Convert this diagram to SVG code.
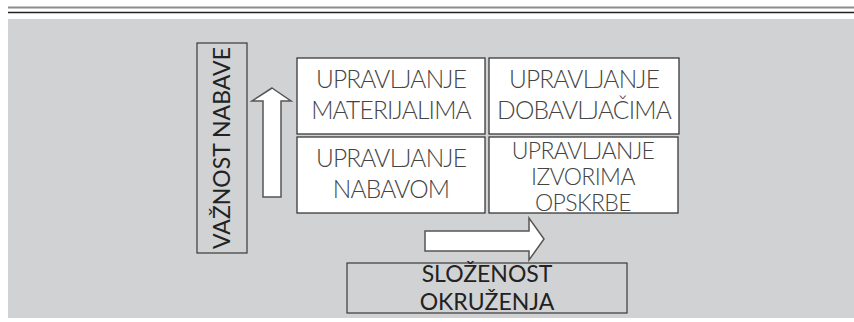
<svg xmlns="http://www.w3.org/2000/svg" width="854" height="322" viewBox="0 0 854 322">
<style>
.box{fill:#fff;stroke:#3a3a3a;stroke-width:1.3}
.lbl{fill:none;stroke:#3a3a3a;stroke-width:1.2}
.arr{fill:#fff;stroke:#555;stroke-width:1.5;stroke-linejoin:miter}
.t{font-family:Lato,"Liberation Sans",sans-serif;font-weight:300;font-size:24.5px;letter-spacing:-0.8px;fill:#444;text-anchor:middle}
.s{font-size:23px;letter-spacing:-0.6px}
.d{font-family:Lato,"Liberation Sans",sans-serif;font-weight:400;font-size:23px;fill:#222;text-anchor:middle}
</style>
<rect x="0" y="0" width="854" height="322" fill="#fff"/>
<line x1="8" y1="7.5" x2="854" y2="7.5" stroke="#8c8c8c" stroke-width="2"/>
<line x1="8" y1="12.5" x2="854" y2="12.5" stroke="#222" stroke-width="1.5"/>
<rect x="8" y="19" width="846" height="299" fill="#d1d2d4"/>
<g id="vaznost">
<rect class="lbl" x="197" y="43" width="50" height="210"/>
<text class="d" transform="translate(230,148) rotate(-90)">VAŽNOST NABAVE</text>
</g>
<g id="connectors">
<polygon class="arr" points="272,88 291,101 281,101 281,197 263,197 263,101 252,101"/>
<polygon class="arr" points="425,231 529,231 529,218 544,239 529,260 529,251 425,251"/>
</g>
<g id="materijali">
<rect class="box" x="297" y="58" width="188" height="76"/>
<text class="t" x="391" y="88">UPRAVLJANJE</text>
<text class="t" x="391" y="119">MATERIJALIMA</text>
</g>
<g id="dobavljaci">
<rect class="box" x="489" y="58" width="190" height="76"/>
<text class="t" x="584" y="88">UPRAVLJANJE</text>
<text class="t" x="584" y="119">DOBAVLJAČIMA</text>
</g>
<g id="nabava">
<rect class="box" x="297" y="137" width="188" height="76"/>
<text class="t" x="391" y="167">UPRAVLJANJE</text>
<text class="t" x="391" y="198">NABAVOM</text>
</g>
<g id="izvori">
<rect class="box" x="489" y="137" width="189" height="76"/>
<text class="t s" x="583" y="159">UPRAVLJANJE</text>
<text class="t s" x="583" y="185">IZVORIMA</text>
<text class="t s" x="583" y="211">OPSKRBE</text>
</g>
<g id="slozenost">
<rect class="lbl" x="347" y="263" width="280" height="50"/>
<text class="d" x="487" y="282">SLOŽENOST</text>
<text class="d" x="487" y="310">OKRUŽENJA</text>
</g>
</svg>
